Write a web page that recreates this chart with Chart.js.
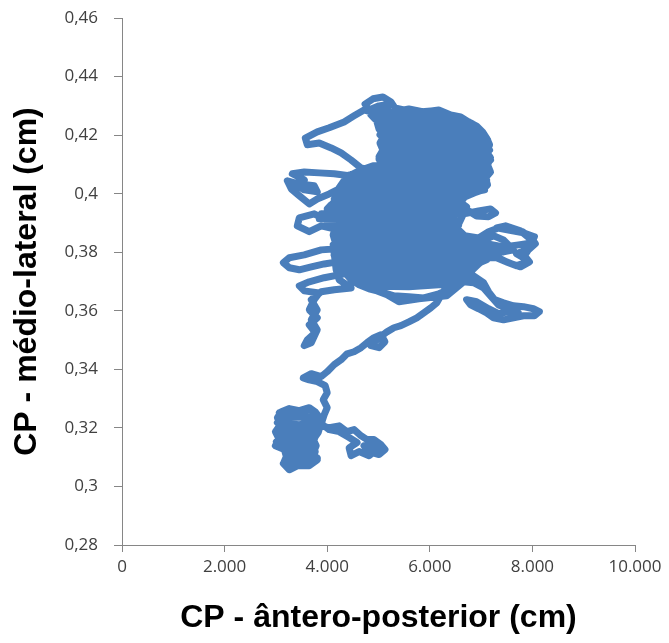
<!DOCTYPE html>
<html>
<head>
<meta charset="utf-8">
<script src="https://cdn.jsdelivr.net/npm/chart.js@4/dist/chart.umd.min.js"></script>
<style>
html,body{margin:0;padding:0;background:#fff;}
#wrap{width:669px;height:643px;position:relative;}
</style>
</head>
<body>
<div id="wrap"><canvas id="c"></canvas></div>
<script>
// Path of the centre of pressure, segment by segment.
// AP = antero-posterior (x axis), ML = medio-lateral (y axis)
const clusterAP = [3456,3262,3146,3456,3689,3806,3301,3223,3767,3689,3107,3010,3456,3728,3767,3107,3048,3806,3845,3126,3029,3456,3806,3689,3165,3068,3301,3553,3650,3747,3883,
                   3767,3650,3456,3262,3107,3029,3087,2990,3068,2990,3165,3204,3146,3262,3417,3650,3806,3728,3786,3728,3825,3864];
const clusterML = [0.3074,0.3057,0.3078,0.3088,0.3085,0.3098,0.3102,0.3119,0.3119,0.3136,0.3136,0.3153,0.3146,0.3153,0.3170,0.3170,0.3187,0.3184,0.3201,0.3201,0.3218,0.3211,0.3221,0.3238,0.3235,0.3252,0.3259,0.3252,0.3266,0.3249,0.3228,
                   0.3255,0.3269,0.3259,0.3266,0.3255,0.3235,0.3211,0.3187,0.3160,0.3139,0.3126,0.3102,0.3078,0.3057,0.3071,0.3071,0.3091,0.3115,0.3139,0.3160,0.3184,0.3207];

const loopAP = [4039,4233,4388,4524,4660,4777,4912,5048,5126,5010,4815,4718,4854,4971,4815,4621,4466,4427,4582,4427,4233,4039,3883];
const loopML = [0.3201,0.3207,0.3187,0.3194,0.3173,0.3160,0.3160,0.3143,0.3126,0.3109,0.3119,0.3139,0.3143,0.3126,0.3105,0.3119,0.3105,0.3132,0.3150,0.3167,0.3187,0.3194,0.3214];

const climbAP = [3942,4000,3922,4000,3961,3806,3650,3534,3689,3883,4000,4136,4272,4388,4524,4660,4777,4912,5048,5126,5010,4854,4971,5165,5301,5437,5592,5747,5883,6019,6136,6213,6291];
const climbML = [0.3245,0.3269,0.3296,0.3320,0.3344,0.3358,0.3364,0.3371,0.3385,0.3375,0.3392,0.3416,0.3433,0.3453,0.3460,0.3474,0.3491,0.3508,0.3518,0.3494,0.3474,0.3481,0.3501,0.3528,0.3542,0.3549,0.3562,0.3576,0.3593,0.3610,0.3627,0.3651,0.3672];

const lowRightAP = [6466,6660,6854,7048,7145,7262,7437,7631,7825,8019,8136,8039,7825,7631,7437,7243,7107,6951,6796,6718,6912,7145,7340,7534,7728,7340,7184,7048,6854,6660];
const lowRightML = [0.3689,0.3706,0.3719,0.3696,0.3665,0.3638,0.3627,0.3617,0.3614,0.3607,0.3597,0.3583,0.3583,0.3576,0.3569,0.3576,0.3593,0.3607,0.3620,0.3638,0.3631,0.3607,0.3590,0.3597,0.3593,0.3620,0.3651,0.3678,0.3696,0.3699];

const lowBlobAP = [6330,5786,5398,5165,4718,5592,6466,6718,5786,4524,4427,5592,6757,6835,5398,4330,4272,5786,6912,7107,5980,4233,4136,5786,7145,7184,5592,4194];
const lowBlobML = [0.3651,0.3641,0.3631,0.3655,0.3685,0.3682,0.3692,0.3709,0.3702,0.3706,0.3723,0.3719,0.3726,0.3740,0.3737,0.3743,0.3757,0.3754,0.3760,0.3774,0.3771,0.3777,0.3791,0.3788,0.3795,0.3808,0.3805,0.3812];

const leftArmsAP = [3883,3553,3262,3146,3262,3456,3689,3942,4194, 4330,3942,3650,3456,3553,3845,
                    3747,3650,3806,3650,3767,3612,3553,3689,3806,3689,3806,3689, 3883,4136,4466,4233,4175];
const leftArmsML = [0.3808,0.3791,0.3781,0.3764,0.3747,0.3740,0.3750,0.3760,0.3767, 0.3726,0.3713,0.3699,0.3685,0.3668,0.3661,
                    0.3638,0.3603,0.3576,0.3552,0.3525,0.3501,0.3481,0.3491,0.3535,0.3569,0.3603,0.3638, 0.3665,0.3672,0.3678,0.3706,0.3740];

const rightArmAP = [4116,5592,7107, 7437,7728,7980,8039,7825,7534,7301,7476,7767,7980,7883,7689,7825,7922,7689,7495,7301,7145,7437,7631,7437,7243,7068];
const rightArmML = [0.3825,0.3822,0.3829, 0.3818,0.3825,0.3832,0.3853,0.3866,0.3876,0.3883,0.3890,0.3873,0.3842,0.3808,0.3795,0.3781,0.3767,0.3754,0.3767,0.3784,0.3801,0.3801,0.3808,0.3842,0.3856,0.3842];

const midBlobAP = [5398,4194, 4155,5398,6621, 6466,5398,4136, 3883,3650,3417,3456,3747,4039, 5398,6563, 6485,5398,3845, 3883,5398,6660,
                   6951,7184,7281,7145,6912,6718, 5398,4000, 4078,5398,6621, 6524,5398,4136, 4194,5398,6679, 7068,5592,4233];
const midBlobML = [0.3839,0.3846, 0.3859,0.3856,0.3863, 0.3876,0.3873,0.3880, 0.3890,0.3870,0.3890,0.3917,0.3931,0.3904, 0.3897,0.3893, 0.3911,0.3911,0.3914, 0.3931,0.3928,0.3931,
                   0.3941,0.3948,0.3934,0.3921,0.3924,0.3945, 0.3941,0.3948, 0.3962,0.3958,0.3965, 0.3979,0.3975,0.3982, 0.3996,0.3993,0.3999, 0.4013,0.4010,0.4016];

const midArmAP = [4039,3806,3650,3456,3301,3223,3456,3747,3806,3553,3417,3553,3320,3553,3845,4136,4427];
const midArmML = [0.3999,0.3982,0.3965,0.3993,0.4016,0.4044,0.4033,0.4027,0.4006,0.4013,0.4027,0.4047,0.4068,0.4074,0.4071,0.4068,0.4061];

const topBlobAP = [4291,5786,6951, 7107,5786,4349, 4427,5786,7029, 7165,5980,4660, 4893,5980,7068, 7184,5980,5010, 5048,6175,7087,
                   7165,6175,5146, 5048,6175,7048, 7126,6175,5126, 5029,6175,7010, 6932,5980,5126, 5010,5980,6835, 6679,5786,4932, 4854,5592,6311,
                   6078,5786,5495,5320];
const topBlobML = [0.4030,0.4027,0.4033, 0.4047,0.4044,0.4051, 0.4064,0.4061,0.4068, 0.4081,0.4078,0.4081, 0.4095,0.4098,0.4102, 0.4115,0.4112,0.4119, 0.4132,0.4129,0.4136,
                   0.4149,0.4146,0.4153, 0.4167,0.4163,0.4170, 0.4184,0.4180,0.4187, 0.4201,0.4197,0.4204, 0.4218,0.4214,0.4221, 0.4235,0.4231,0.4238, 0.4252,0.4248,0.4255, 0.4269,0.4266,0.4272,
                   0.4283,0.4279,0.4286,0.4293];

const capArmAP = [5243,5087,4893,4738,4815,5010,5204,5165,4912,4718, 4524,4330,4039,3806,3573,3612,3845,4078,4272,4466,4660,4971];
const capArmML = [0.4313,0.4330,0.4324,0.4306,0.4286,0.4300,0.4306,0.4286,0.4276,0.4286, 0.4266,0.4245,0.4225,0.4211,0.4190,0.4167,0.4173,0.4156,0.4139,0.4115,0.4088,0.4074];

const rimAP = [5048,5010,5087,5029,5107,5010,4971,5107,5301,5592,5883,6175,6408,6602,6757,6912,7029,7107,7165,7107,
               7184,7126,7184,7087,7126,7029,6874,6679,6602,6718,6602,6524,6679,6951,7145,7340,7573,7806,7980,8058,
               7922,7845,7942,7767,7534,7301,7107,6951,6835,6757,6563,6369,6175,5883,5592,5301,5048,4815,4621,4466,
               4349,4272,4194,4136,4155,4116,4155,4058,4097,4039,4136,4194,4233,4311,4388,4582,
               5786,6369,5398];
const rimML = [0.4098,0.4126,0.4149,0.4173,0.4197,0.4221,0.4245,0.4272,0.4279,0.4289,0.4279,0.4286,0.4269,0.4262,0.4245,0.4231,0.4211,0.4190,0.4167,0.4143,
               0.4122,0.4098,0.4074,0.4054,0.4030,0.4013,0.4003,0.3989,0.3969,0.3955,0.3911,0.3883,0.3856,0.3849,0.3870,0.3883,0.3880,0.3870,0.3849,0.3829,
               0.3808,0.3788,0.3767,0.3750,0.3764,0.3781,0.3781,0.3760,0.3740,0.3713,0.3692,0.3672,0.3658,0.3644,0.3648,0.3651,0.3665,0.3675,0.3689,0.3706,
               0.3730,0.3754,0.3781,0.3808,0.3836,0.3859,0.3883,0.3904,0.3931,0.3952,0.3972,0.3996,0.4020,0.4040,0.4057,0.4074,
               0.3979,0.3808,0.3706];

const xTicks = [0, 2000, 4000, 6000, 8000, 10000];
const yTicks = [0.28, 0.30, 0.32, 0.34, 0.36, 0.38, 0.40, 0.42, 0.44, 0.46];
const xTitle = 'CP - ântero-posterior (cm)';
const yTitle = 'CP - médio-lateral (cm)';

const apValues = [].concat(clusterAP, loopAP, climbAP, lowRightAP, lowBlobAP, leftArmsAP, rightArmAP, midBlobAP, midArmAP, topBlobAP, capArmAP, rimAP);
const mlValues = [].concat(clusterML, loopML, climbML, lowRightML, lowBlobML, leftArmsML, rightArmML, midBlobML, midArmML, topBlobML, capArmML, rimML);
const points = apValues.map((x, i) => ({x: x, y: mlValues[i]}));

const fmtX = v => String(Math.round(v)).replace(/\B(?=(\d{3})+(?!\d))/g, '.');
const fmtY = v => String(Math.round(v * 100) / 100).replace('.', ',');
const axisGrey = '#868686';
const tickFont = {family: "'Open Sans', sans-serif", size: 17};
const titleFont = {family: "'Liberation Sans', Arial, sans-serif", size: 32, weight: 'bold'};

new Chart(document.getElementById('c'), {
  type: 'scatter',
  data: {
    datasets: [{
      data: points,
      showLine: true,
      borderColor: '#4A7EBB',
      backgroundColor: '#4A7EBB',
      borderWidth: 7,
      borderJoinStyle: 'round',
      borderCapStyle: 'round',
      pointRadius: 0,
      pointHoverRadius: 0,
      tension: 0,
      fill: false
    }]
  },
  options: {
    responsive: true,
    maintainAspectRatio: false,
    animation: false,
    layout: {padding: {left: 0, right: 34, top: 18, bottom: 0}},
    plugins: {legend: {display: false}, tooltip: {enabled: false}},
    scales: {
      x: {
        type: 'linear',
        min: xTicks[0], max: xTicks[xTicks.length - 1],
        afterBuildTicks: s => { s.ticks = xTicks.map(v => ({value: v})); },
        afterFit: s => { s.height = 98; s.paddingLeft = 0; s.paddingRight = 0; },
        grid: {drawOnChartArea: false, drawTicks: true, tickLength: 7, color: axisGrey},
        border: {display: true, color: axisGrey, width: 1},
        ticks: {callback: v => fmtX(v), font: tickFont, color: '#404040', padding: 5, maxRotation: 0, autoSkip: false},
        title: {display: true, text: xTitle, font: titleFont, color: '#000', padding: {top: 0, bottom: 6}}
      },
      y: {
        type: 'linear',
        min: yTicks[0], max: yTicks[yTicks.length - 1],
        afterBuildTicks: s => { s.ticks = yTicks.map(v => ({value: v})); },
        afterFit: s => { s.width = 122; s.paddingTop = 0; s.paddingBottom = 0; },
        grid: {drawOnChartArea: false, drawTicks: true, tickLength: 8, color: axisGrey},
        border: {display: true, color: axisGrey, width: 1},
        ticks: {callback: v => fmtY(v), font: tickFont, color: '#404040', padding: 16, autoSkip: false},
        title: {display: true, text: yTitle, font: titleFont, color: '#000', padding: {top: 8, bottom: 0}}
      }
    }
  }
});
</script>
</body>
</html>
